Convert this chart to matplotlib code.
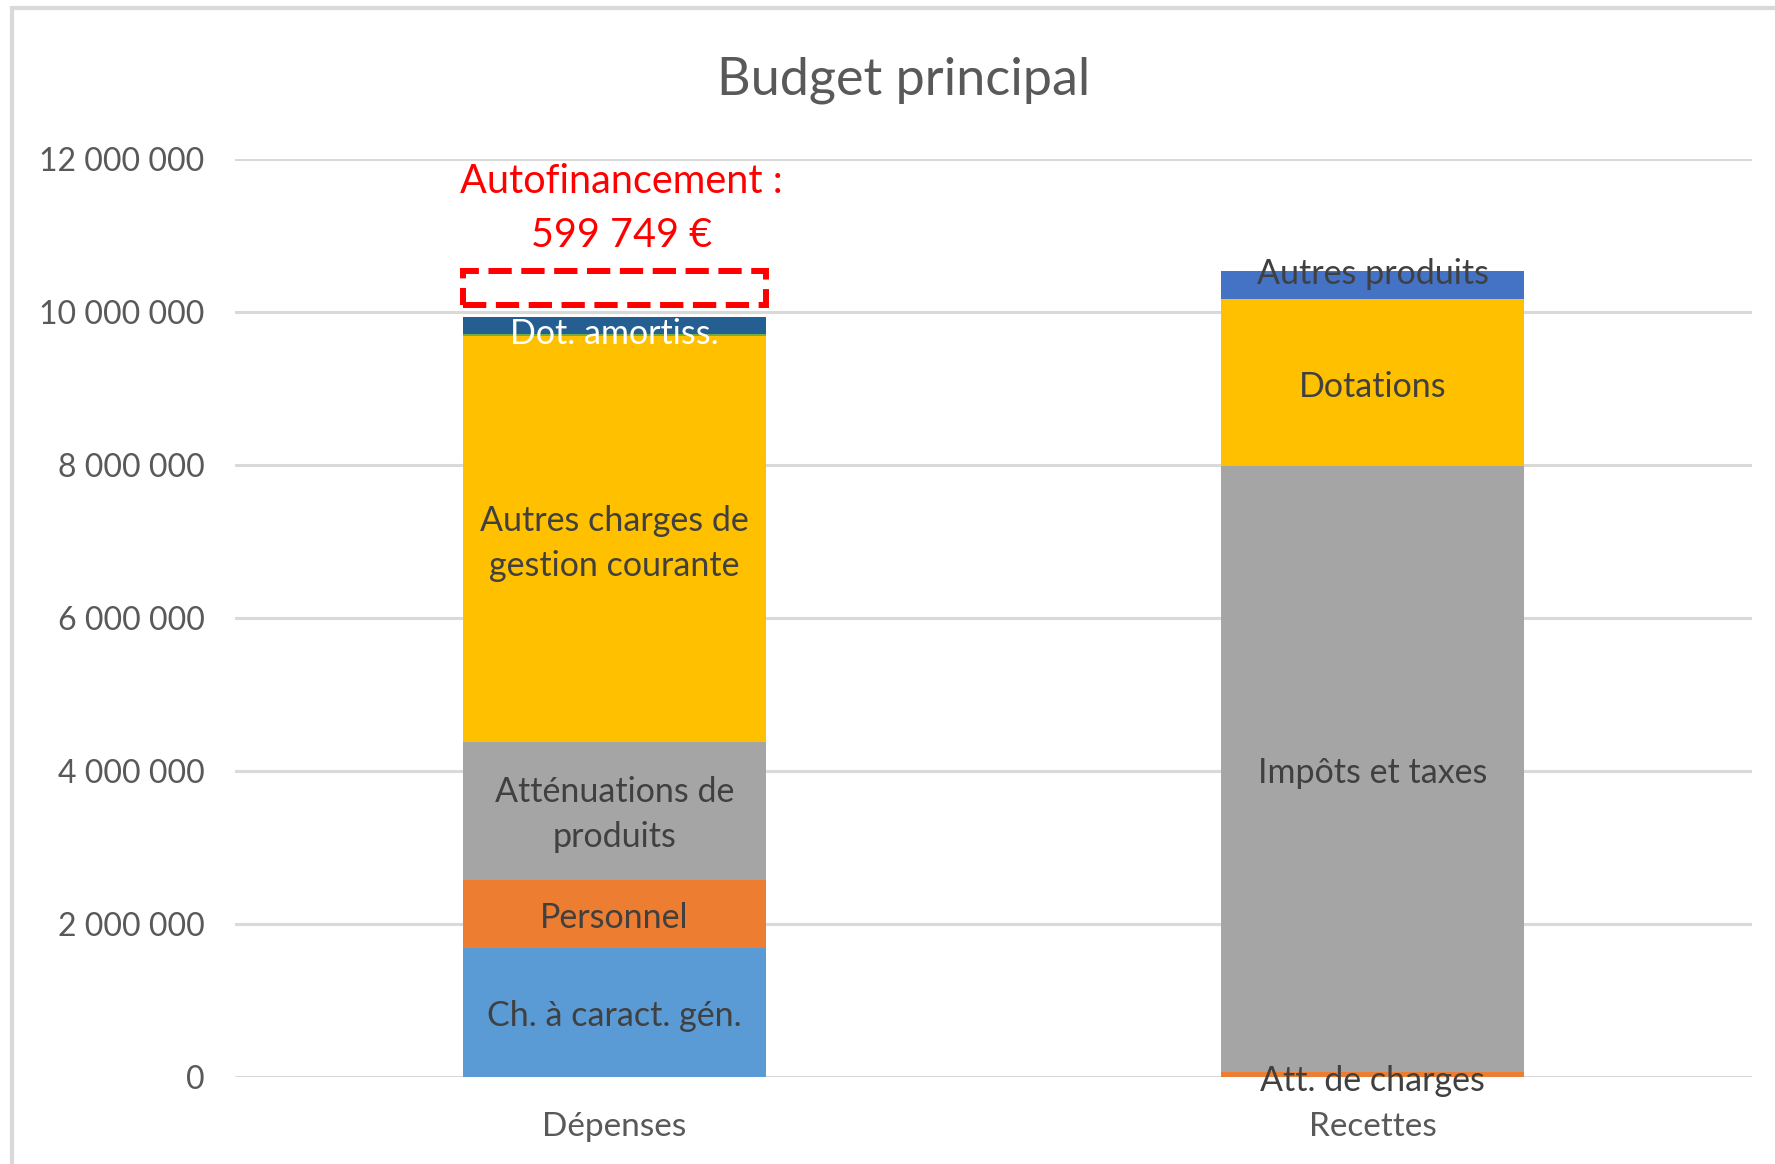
import matplotlib
matplotlib.use('Agg')
import matplotlib.pyplot as plt
from matplotlib.patches import Rectangle
import numpy as np

plt.rcParams['font.family'] = ['Lato', 'DejaVu Sans']

# Données (en euros)
categories = ['Dépenses', 'Recettes']

depenses_labels = ['Ch. à caract. gén.', 'Personnel', 'Atténuations de\nproduits',
                   'Autres charges de\ngestion courante', '', 'Dot. amortiss.']
depenses_values = [1692000, 887000, 1804000, 5297000, 26000, 226000]
depenses_colors = ['#5B9BD5', '#ED7D31', '#A5A5A5', '#FFC000', '#70AD47', '#255E91']
depenses_text = ['#404040', '#404040', '#404040', '#404040', '#404040', 'white']

recettes_labels = ['Att. de charges', 'Impôts et taxes', 'Dotations', 'Autres produits']
recettes_values = [70000, 7910000, 2180000, 370000]
recettes_colors = ['#ED7D31', '#A5A5A5', '#FFC000', '#4472C4']

autofinancement = 599749

# décalage vertical des étiquettes (points)
label_shift = {'Dot. amortiss.': -3, 'Autres produits': 11, 'Att. de charges': -2}

fig = plt.figure(figsize=(17.75, 11.64), dpi=100)
ax = fig.add_axes([0.1324, 0.0747, 0.8546, 0.7891])

width = 0.4


def stack(ax, x, values, colors, labels, text_colors):
    bottom = 0
    for v, c, lab, tc in zip(values, colors, labels, text_colors):
        ax.bar(x, v, width=width, bottom=bottom, color=c, zorder=3)
        if lab:
            ax.annotate(lab, (x, bottom + v / 2), xytext=(0, -3 + label_shift.get(lab, 0)),
                        textcoords='offset points', ha='center', va='center',
                        fontsize=24.5, color=tc, zorder=5, linespacing=1.5)
        bottom += v
    return bottom


dep_total = stack(ax, 0, depenses_values, depenses_colors, depenses_labels, depenses_text)
rec_total = stack(ax, 1, recettes_values, recettes_colors, recettes_labels,
                  ['#404040'] * len(recettes_values))

# Cadre autofinancement
box_bottom = rec_total - 0.45e6
box = Rectangle((-width / 2, box_bottom), width, rec_total - box_bottom,
                fill=False, edgecolor='#FF0000', linewidth=4.3,
                linestyle=(0, (3.9, 1.6)), zorder=6, clip_on=False)
ax.add_patch(box)
montant = f"{autofinancement:,}".replace(',', ' ')
ax.text(0.01, rec_total + 0.82e6, 'Autofinancement :\n' + montant + ' €',
        ha='center', va='center', fontsize=28.5, color='#FF0000', linespacing=1.55)

ax.set_xlim(-0.5, 1.5)
ax.set_ylim(0, 12e6)
ax.set_yticks(np.arange(0, 12.1e6, 2e6))
ax.set_yticklabels([f"{int(v):,}".replace(',', ' ') for v in np.arange(0, 12.1e6, 2e6)])
ax.set_xticks([0, 1])
ax.set_xticklabels(categories)
ax.tick_params(axis='both', length=0, labelcolor='#595959')
ax.tick_params(axis='y', pad=22, labelsize=23)
ax.tick_params(axis='x', pad=25, labelsize=24)
ax.grid(axis='y', color='#D9D9D9', linewidth=2.2, zorder=0)
for s in ax.spines.values():
    s.set_visible(False)

fig.text(0.509, 0.931, 'Budget principal', ha='center', va='center',
         fontsize=37.5, color='#595959')

# Bordure du graphique
fig.patches.append(Rectangle((0.007, -0.05), 1.1, 1.043, transform=fig.transFigure,
                             fill=False, edgecolor='#D9D9D9', linewidth=3))

fig.savefig('out.png', dpi=100)
